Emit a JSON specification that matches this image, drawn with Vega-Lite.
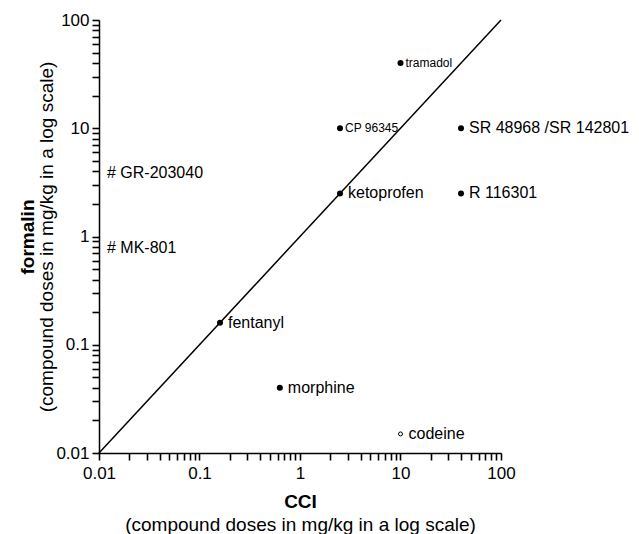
{
  "$schema": "https://vega.github.io/schema/vega-lite/v6.json",
  "width": 402,
  "height": 433,
  "padding": {"left": 18, "top": 11, "right": 5, "bottom": 0},
  "background": "white",
  "config": {
    "view": {"stroke": null},
    "font": "Liberation Sans",
    "axis": {
      "domainColor": "#000000",
      "domainWidth": 1.5,
      "tickColor": "#000000",
      "tickWidth": 1.6,
      "tickOpacity": 1,
      "ticks": true,
      "labelColor": "black",
      "titleColor": "black",
      "labelFont": "Liberation Sans",
      "titleFont": "Liberation Sans",
      "grid": false
    }
  },
  "datasets": {
    "compounds": [
      {"name": "tramadol", "cci": 10, "formalin": 40, "kind": "filled", "label": "small"},
      {"name": "CP 96345", "cci": 2.5, "formalin": 10, "kind": "filled", "label": "small"},
      {"name": "SR 48968 /SR 142801", "cci": 40, "formalin": 10, "kind": "filled", "label": "big"},
      {"name": "ketoprofen", "cci": 2.5, "formalin": 2.5, "kind": "filled", "label": "big"},
      {"name": "R 116301", "cci": 40, "formalin": 2.5, "kind": "filled", "label": "big"},
      {"name": "fentanyl", "cci": 0.16, "formalin": 0.16, "kind": "filled", "label": "big"},
      {"name": "morphine", "cci": 0.63, "formalin": 0.04, "kind": "filled", "label": "big"},
      {"name": "codeine", "cci": 10, "formalin": 0.015, "kind": "open", "label": "big"},
      {"name": "# GR-203040", "cci": 0.01, "formalin": 3.85, "kind": "none", "label": "big"},
      {"name": "# MK-801", "cci": 0.01, "formalin": 0.78, "kind": "none", "label": "big"}
    ],
    "diagonal": [
      {"cci": 0.01, "formalin": 0.01},
      {"cci": 100, "formalin": 100}
    ]
  },
  "layer": [
    {
      "data": {"name": "diagonal"},
      "mark": {"type": "line", "color": "black", "strokeWidth": 1.5},
      "encoding": {
        "x": {"field": "cci", "type": "quantitative",
          "scale": {"type": "log", "domain": [0.01, 100]},
          "axis": {"orient": "bottom", "title": null, "format": "~g",
            "values": [0.01,0.02,0.03,0.04,0.05,0.06,0.07,0.08,0.09,0.1,0.2,0.3,0.4,0.5,0.6,0.7,0.8,0.9,1,2,3,4,5,6,7,8,9,10,20,30,40,50,60,70,80,90,100],
            "labelExpr": "(datum.value === 0.01 || datum.value === 0.1 || datum.value === 1 || datum.value === 10 || datum.value === 100) ? datum.label : ''",
            "tickSize": 7,
            "labelFontSize": 17, "labelPadding": 5, "labelFlush": false, "labelOverlap": false, "labelBound": false}},
        "y": {"field": "formalin", "type": "quantitative",
          "scale": {"type": "log", "domain": [0.01, 100]},
          "axis": {"orient": "left", "title": null, "format": "~g",
            "values": [0.01,0.02,0.03,0.04,0.05,0.06,0.07,0.08,0.09,0.1,0.2,0.3,0.4,0.5,0.6,0.7,0.8,0.9,1,2,3,4,5,6,7,8,9,10,20,30,40,50,60,70,80,90,100],
            "labelExpr": "(datum.value === 0.01 || datum.value === 0.1 || datum.value === 1 || datum.value === 10 || datum.value === 100) ? datum.label : ''",
            "tickSize": 7,
            "labelFontSize": 17, "labelPadding": 3, "labelFlush": false, "labelOverlap": false, "labelBound": false}}
      }
    },
    {
      "data": {"name": "compounds"},
      "transform": [{"filter": "datum.kind === 'filled'"}],
      "mark": {"type": "point", "filled": true, "color": "black", "size": 36, "opacity": 1},
      "encoding": {
        "x": {"field": "cci", "type": "quantitative", "scale": {"type": "log", "domain": [0.01, 100]}, "axis": null},
        "y": {"field": "formalin", "type": "quantitative", "scale": {"type": "log", "domain": [0.01, 100]}, "axis": null}
      }
    },
    {
      "data": {"name": "compounds"},
      "transform": [{"filter": "datum.kind === 'open'"}],
      "mark": {"type": "point", "filled": false, "color": "black", "size": 16, "strokeWidth": 1, "opacity": 1},
      "encoding": {
        "x": {"field": "cci", "type": "quantitative",
          "scale": {"type": "log", "domain": [0.01, 100]},
          "axis": {"orient": "bottom", "title": "CCI", "labels": false, "ticks": false, "domain": false,
            "titleFontSize": 19, "titleFontWeight": "bold", "titlePadding": 39}},
        "y": {"field": "formalin", "type": "quantitative",
          "scale": {"type": "log", "domain": [0.01, 100]},
          "axis": {"orient": "left", "title": "formalin", "labels": false, "ticks": false, "domain": false,
            "titleFontSize": 19, "titleFontWeight": "bold", "titlePadding": 62}}
      }
    },
    {
      "data": {"name": "compounds"},
      "transform": [{"filter": "datum.label === 'big'"}],
      "mark": {"type": "text", "align": "left", "baseline": "middle", "dx": 8, "fontSize": 16, "color": "black"},
      "encoding": {
        "x": {"field": "cci", "type": "quantitative",
          "scale": {"type": "log", "domain": [0.01, 100]},
          "axis": {"orient": "bottom", "title": "(compound doses in mg/kg in a log scale)", "labels": false, "ticks": false, "domain": false,
            "titleFontSize": 19, "titleFontWeight": "normal", "titlePadding": 62}},
        "y": {"field": "formalin", "type": "quantitative",
          "scale": {"type": "log", "domain": [0.01, 100]},
          "axis": {"orient": "left", "title": "(compound doses in mg/kg in a log scale)", "labels": false, "ticks": false, "domain": false,
            "titleFontSize": 19, "titleFontWeight": "normal", "titlePadding": 43}},
        "text": {"field": "name"}
      }
    },
    {
      "data": {"name": "compounds"},
      "transform": [{"filter": "datum.label === 'small'"}],
      "mark": {"type": "text", "align": "left", "baseline": "middle", "dx": 5, "fontSize": 12, "letterSpacing": -0.6, "color": "black"},
      "encoding": {
        "x": {"field": "cci", "type": "quantitative", "scale": {"type": "log", "domain": [0.01, 100]}, "axis": null},
        "y": {"field": "formalin", "type": "quantitative", "scale": {"type": "log", "domain": [0.01, 100]}, "axis": null},
        "text": {"field": "name"}
      }
    }
  ],
  "resolve": {"axis": {"x": "independent", "y": "independent"}}
}
